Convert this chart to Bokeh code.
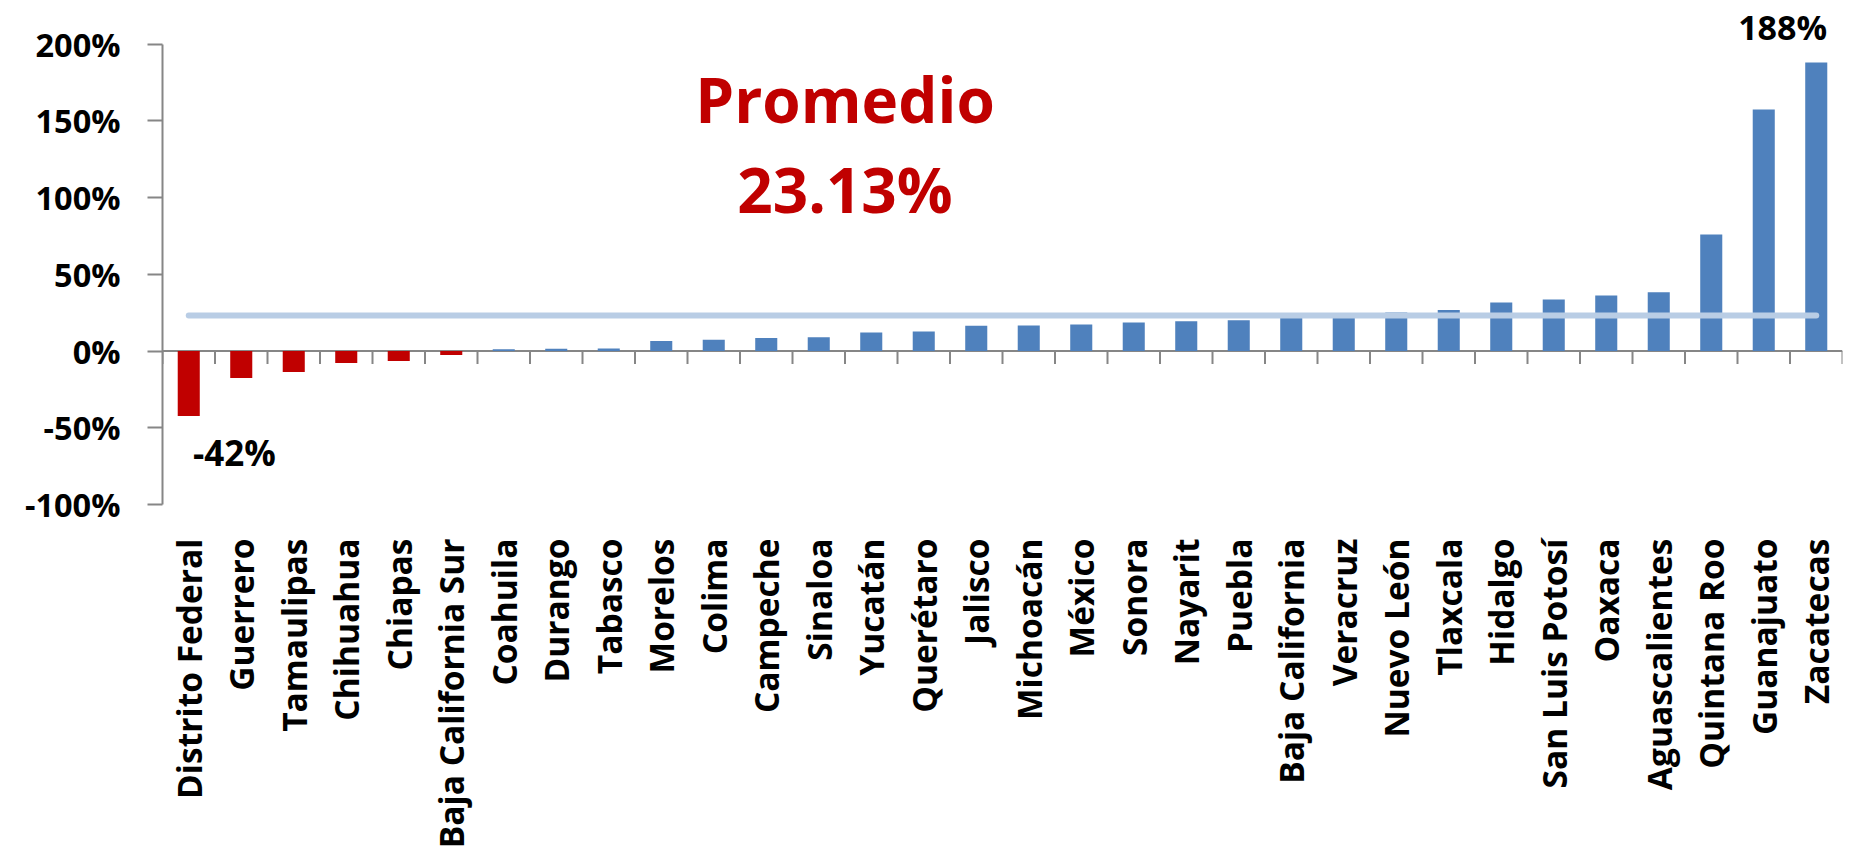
import math
from bokeh.plotting import figure
from bokeh.models import Range1d, FixedTicker, LinearAxis, Label
from bokeh.embed import file_html
from bokeh.resources import INLINE

estados = ["Distrito Federal", "Guerrero", "Tamaulipas", "Chihuahua", "Chiapas",
           "Baja California Sur", "Coahuila", "Durango", "Tabasco", "Morelos",
           "Colima", "Campeche", "Sinaloa", "Yucatán", "Querétaro", "Jalisco",
           "Michoacán", "México", "Sonora", "Nayarit", "Puebla", "Baja California",
           "Veracruz", "Nuevo León", "Tlaxcala", "Hidalgo", "San Luis Potosí",
           "Oaxaca", "Aguascalientes", "Quintana Roo", "Guanajuato", "Zacatecas"]
valores = [-42.4, -17.6, -13.7, -7.8, -6.5, -2.6, 1.1, 1.5, 1.7, 6.5,
           7.4, 8.5, 8.9, 12.0, 12.7, 16.4, 16.6, 17.3, 18.6, 19.4,
           20.1, 22.0, 22.8, 25.1, 26.7, 31.6, 33.6, 36.2, 38.3, 75.9,
           157.3, 188.0]
promedio = 23.13
y_ticks = [-100, -50, 0, 50, 100, 150, 200]

n = len(estados)
centros = [i + 0.5 for i in range(n)]
limites = list(range(n + 1))
colores = ["#C00000" if v < 0 else "#4F81BD" for v in valores]

FONT = "Open Sans"
AXIS_COLOR = "#868686"
Y_TOP = 228.4
PX_PER_UNIT = 504.0 / (Y_TOP + 100)

p = figure(width=1850, height=854, output_backend="svg", toolbar_location=None,
           x_range=Range1d(0, n), y_range=Range1d(-100, Y_TOP),
           min_border_left=162, min_border_right=8, min_border_top=0,
           min_border_bottom=350, x_axis_location=None, y_axis_location=None)
p.outline_line_color = None
p.xgrid.visible = False
p.ygrid.visible = False

# y axis
ya = LinearAxis(ticker=FixedTicker(ticks=y_ticks), bounds=(-100, 200))
ya.major_label_overrides = {t: f"{t}%" for t in y_ticks}
ya.axis_line_color = AXIS_COLOR
ya.axis_line_width = 2
ya.major_tick_line_color = AXIS_COLOR
ya.major_tick_line_width = 2
ya.major_tick_out = 15
ya.major_tick_in = 0
ya.minor_tick_line_color = None
ya.major_label_standoff = 27
ya.major_label_text_font = FONT
ya.major_label_text_font_style = "bold"
ya.major_label_text_font_size = "32.5px"
ya.major_label_text_color = "black"
p.add_layout(ya, "left")

# category labels axis (bottom)
xa = LinearAxis(ticker=FixedTicker(ticks=centros))
xa.major_label_overrides = {c: e for c, e in zip(centros, estados)}
xa.major_label_orientation = math.pi / 2
xa.axis_line_color = None
xa.major_tick_line_color = None
xa.minor_tick_line_color = None
xa.major_label_standoff = 28
xa.major_label_text_font = FONT
xa.major_label_text_font_style = "bold"
xa.major_label_text_font_size = "33.5px"
xa.major_label_text_color = "black"
p.add_layout(xa, "below")

# zero line with ticks at category boundaries
p.segment(x0=[0], y0=[0], x1=[n], y1=[0], line_color=AXIS_COLOR, line_width=2)
tick_len = 13 / PX_PER_UNIT
p.segment(x0=limites, y0=[0] * len(limites), x1=limites,
          y1=[-tick_len] * len(limites), line_color=AXIS_COLOR, line_width=2)

# bars
p.vbar(x=centros, top=valores, bottom=0, width=0.42, fill_color=colores,
       line_color=None)

# average line
p.line(x=[centros[0], centros[-1]], y=[promedio, promedio], line_color="#B9CDE5",
       line_width=6, line_cap="round")

# data labels
vmin = min(valores)
vmax = max(valores)
imin = valores.index(vmin)
imax = valores.index(vmax)
p.add_layout(Label(x=centros[imin] + 0.87, y=-66.0, text=f"{round(vmin)}%",
                   text_align="center", text_baseline="alphabetic",
                   text_font=FONT, text_font_style="bold",
                   text_font_size="35px", text_color="black"))
p.add_layout(Label(x=centros[imax] - 0.64, y=211.0, text=f"{round(vmax)}%",
                   text_align="center", text_baseline="alphabetic",
                   text_font=FONT, text_font_style="bold",
                   text_font_size="34px", text_color="black"))

# average annotation
p.add_layout(Label(x=13.0, y=164.5, text="Promedio", text_align="center",
                   text_baseline="alphabetic", text_font=FONT,
                   text_font_style="bold", text_font_size="62px",
                   text_color="#C00000"))
p.add_layout(Label(x=13.0, y=105.7, text=f"{promedio:.2f}%", text_align="center",
                   text_baseline="alphabetic", text_font=FONT,
                   text_font_style="bold", text_font_size="62px",
                   text_color="#C00000"))

open("out.html", "w").write(file_html(p, INLINE))
